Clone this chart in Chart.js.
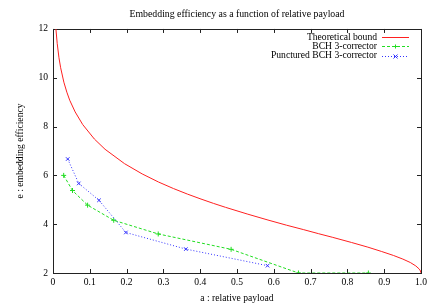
<!DOCTYPE html>
<html>
<head>
<meta charset="utf-8">
<script src="https://cdn.jsdelivr.net/npm/chart.js@4"></script>
<style>
  html, body { margin: 0; padding: 0; background: #fff; }
  canvas { display: block; }
</style>
</head>
<body>
<canvas id="chart" width="436" height="305"></canvas>
<script>
// values
const boundA = [0.0079, 0.0114, 0.0162, 0.0208, 0.0295, 0.0376, 0.0454, 0.0602, 0.0808, 0.1124, 0.1414,
  0.1944, 0.2423, 0.2864, 0.3274, 0.3659, 0.4022, 0.4365, 0.4690, 0.5294, 0.5842, 0.6343, 0.6801,
  0.7219, 0.7602, 0.8113, 0.8555, 0.8932, 0.9249, 0.9507, 0.9710, 0.9859, 0.9954, 0.9988, 0.9997, 1.0];
const boundE = [12.0, 11.41, 10.82, 10.41, 9.82, 9.41, 9.08, 8.60, 8.08, 7.49, 7.07,
  6.48, 6.06, 5.73, 5.46, 5.23, 5.03, 4.85, 4.69, 4.41, 4.17, 3.96, 3.78,
  3.61, 3.46, 3.25, 3.06, 2.88, 2.72, 2.57, 2.43, 2.29, 2.16, 2.08, 2.04, 2.0];

const bchA = [0.029, 0.053, 0.094, 0.165, 0.286, 0.484, 0.667, 0.857];
const bchE = [6.0, 5.38, 4.78, 4.16, 3.60, 2.97, 2.0, 2.0];

const puncA = [0.040, 0.070, 0.125, 0.198, 0.361, 0.583];
const puncE = [6.67, 5.67, 4.98, 3.66, 2.98, 2.30];

const xTicks = [0, 0.1, 0.2, 0.3, 0.4, 0.5, 0.6, 0.7, 0.8, 0.9, 1];
const yTicks = [2, 4, 6, 8, 10, 12];

const pts = (xs, ys) => xs.map((x, i) => ({ x, y: ys[i] }));
const FONT = "'Liberation Serif', 'DejaVu Serif', serif";
const FS = 9.6;

// gnuplot-style box, inward ticks and legend
const gnuplotFrame = {
  id: "gnuplotFrame",
  beforeDatasetsDraw(chart) {
    const { ctx, chartArea: a, scales } = chart;
    ctx.save();
    ctx.strokeStyle = "#222";
    ctx.lineWidth = 1;
    ctx.strokeRect(Math.round(a.left) + 0.5, Math.round(a.top) + 0.5,
                   Math.round(a.right - a.left), Math.round(a.bottom - a.top));
    const tl = 4;
    ctx.beginPath();
    scales.x.ticks.forEach(t => {
      const px = Math.round(scales.x.getPixelForValue(t.value)) + 0.5;
      ctx.moveTo(px, a.bottom); ctx.lineTo(px, a.bottom - tl);
      ctx.moveTo(px, a.top); ctx.lineTo(px, a.top + tl);
    });
    scales.y.ticks.forEach(t => {
      const py = Math.round(scales.y.getPixelForValue(t.value)) + 0.5;
      ctx.moveTo(a.left, py); ctx.lineTo(a.left + tl, py);
      ctx.moveTo(a.right, py); ctx.lineTo(a.right - tl, py);
    });
    ctx.stroke();
    ctx.restore();
  },
  afterDraw(chart) {
    const { ctx } = chart;
    ctx.save();
    ctx.font = FS + "px " + FONT;
    ctx.textAlign = "right";
    ctx.textBaseline = "middle";
    chart.data.datasets.forEach((ds, i) => {
      const y = 37 + i * 9.3;
      ctx.fillStyle = "#000";
      ctx.fillText(ds.label, 377, y);
      ctx.strokeStyle = ds.borderColor;
      ctx.lineWidth = 1;
      ctx.setLineDash(ds.borderDash || []);
      ctx.beginPath();
      ctx.moveTo(382, Math.round(y) + 0.5);
      ctx.lineTo(409, Math.round(y) + 0.5);
      ctx.stroke();
      ctx.setLineDash([]);
      if (ds.pointStyle && ds.pointRadius) {
        const r = 2, cx = 395.5, cy = Math.round(y) + 0.5;
        ctx.beginPath();
        if (ds.pointStyle === "cross") {
          ctx.moveTo(cx - r, cy); ctx.lineTo(cx + r, cy);
          ctx.moveTo(cx, cy - r); ctx.lineTo(cx, cy + r);
        } else {
          ctx.moveTo(cx - r, cy - r); ctx.lineTo(cx + r, cy + r);
          ctx.moveTo(cx - r, cy + r); ctx.lineTo(cx + r, cy - r);
        }
        ctx.stroke();
      }
    });
    ctx.restore();
  }
};

new Chart(document.getElementById("chart"), {
  type: "scatter",
  data: {
    datasets: [
      {
        label: "Theoretical bound",
        data: pts(boundA, boundE),
        showLine: true,
        borderColor: "#ff2020",
        borderWidth: 1,
        pointRadius: 0,
        order: 3
      },
      {
        label: "BCH 3-corrector",
        data: pts(bchA, bchE),
        showLine: true,
        borderColor: "#22dd22",
        borderWidth: 1,
        borderDash: [3, 2],
        pointStyle: "cross",
        pointRadius: 2.5,
        pointBorderWidth: 1,
        order: 2
      },
      {
        label: "Punctured BCH 3-corrector",
        data: pts(puncA, puncE),
        showLine: true,
        borderColor: "#3333ff",
        borderWidth: 1,
        borderDash: [1, 2],
        pointStyle: "crossRot",
        pointRadius: 2.5,
        pointBorderWidth: 1,
        order: 1
      }
    ]
  },
  options: {
    responsive: false,
    animation: false,
    devicePixelRatio: 1,
    layout: { padding: { left: 0, right: 15, top: 0, bottom: 0 } },
    plugins: {
      legend: { display: false },
      tooltip: { enabled: false },
      title: {
        display: true,
        fullSize: false,
        text: "Embedding efficiency as a function of relative payload",
        color: "#000",
        font: { family: FONT, size: 9.8, weight: "normal" },
        padding: { top: 9, bottom: 8.2 }
      }
    },
    scales: {
      x: {
        type: "linear",
        min: 0, max: 1,
        afterBuildTicks: s => { s.ticks = xTicks.map(v => ({ value: v })); },
        afterFit: s => { s.height = 32; },
        grid: { display: false, drawTicks: false },
        border: { display: false },
        ticks: { color: "#000", padding: 4, font: { family: FONT, size: FS } },
        title: {
          display: true, text: "a : relative payload", color: "#000",
          font: { family: FONT, size: FS }, padding: 1
        }
      },
      y: {
        type: "linear",
        min: 2, max: 12,
        afterBuildTicks: s => { s.ticks = yTicks.map(v => ({ value: v })); },
        afterFit: s => { s.width = 53; },
        grid: { display: false, drawTicks: false },
        border: { display: false },
        ticks: { color: "#000", padding: 5, font: { family: FONT, size: FS } },
        title: {
          display: true, text: "e : embedding efficiency", color: "#000",
          font: { family: FONT, size: FS }, padding: 15
        }
      }
    }
  },
  plugins: [gnuplotFrame]
});
</script>
</body>
</html>
